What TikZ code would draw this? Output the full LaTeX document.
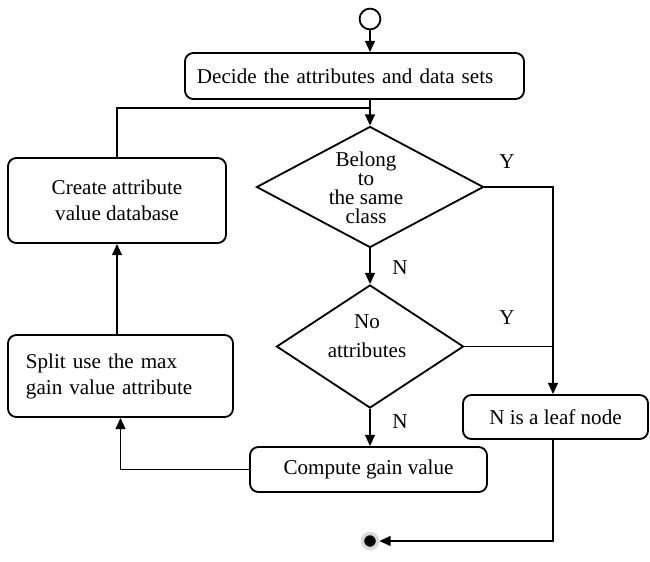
\documentclass[tikz,border=0pt]{standalone}
\usepackage{fontspec}
\setmainfont{Liberation Serif}
\usetikzlibrary{shapes.geometric, arrows.meta, positioning}

\tikzset{
  box/.style={draw, rounded corners=6pt, line width=1.3pt, align=center, inner sep=0pt},
  decision/.style={draw, diamond, line width=1.3pt, inner sep=0pt},
  flow/.style={line width=1.3pt, -{Triangle[length=8pt,width=7pt]}},
  link/.style={line width=1.3pt},
}

\begin{document}
\begin{tikzpicture}[x=0.025cm, y=-0.025cm, font=\fontsize{15}{18.5}\selectfont]
        \useasboundingbox (0,0) rectangle (650,561);

        \node[circle, draw, line width=1.3pt, minimum size=0.52cm, inner sep=0pt] (start) at (370,19) {};
        \node[box, minimum width=8.475cm, minimum height=1.15cm, inner xsep=0.3cm, text width=7.875cm, align=left] (decide) at (354.5,76) {Decide the attributes and data sets};

        \node[decision, minimum width=5.675cm, minimum height=3.025cm] (same) at (370,187) {};
        \node[align=center, font=\fontsize{15}{13.5}\selectfont] (sametext) at (366,188) {Belong\\to\\the same\\class};
        \node[decision, minimum width=4.675cm, minimum height=3.075cm] (noattr) at (370,346.5) {};
        \node[align=center, font=\fontsize{15}{20.6}\selectfont] (noattrtext) at (367,336) {No\\attributes};

        \node[box, minimum width=5.925cm, minimum height=1.125cm] (compute) at (368.5,469.5) {Compute gain value};
        \node[box, minimum width=4.625cm, minimum height=1.1cm] (leaf) at (555.5,417) {N is a leaf node};
        \node[box, minimum width=5.45cm, minimum height=2.125cm] (create) at (117,200.5) {Create attribute\\value database};
        \node[box, minimum width=5.625cm, minimum height=2.05cm, inner xsep=0.45cm, text width=4.725cm, align=left] (split) at (120.5,376) {Split use the max\\gain value attribute};

        \node[circle, fill=black, draw=black!15, line width=2.5pt, minimum size=0.38cm, inner sep=0pt] (stop) at (370,541) {};

        \coordinate (fb) at (370,108);
        \coordinate (rail) at (553,0);

        \node (ysame) at (507,162) {Y};
        \node (nsame) at (400,268) {N};
        \node (yno) at (507,318) {Y};
        \node (nno) at (400,422) {N};

        \draw[flow] (start) -- (start |- decide.north);
        \draw[flow] (same.north |- decide.south) -- (same.north);
        \draw[link] (create.north) |- (fb);
        \draw[flow] (same.east) -| (rail |- leaf.north);
        \draw[flow] (same.south) -- (noattr.north);
        \draw[link] (noattr.east) -- (rail |- noattr.east);
        \draw[flow] (noattr.south) -- (noattr.south |- compute.north);
        \draw[flow] (compute.west) -| (split.south);
        \draw[flow] (create.south |- split.north) -- (create.south);
        \draw[flow] (leaf.south -| rail) |- (stop.east);

    \end{tikzpicture}
\end{document}
